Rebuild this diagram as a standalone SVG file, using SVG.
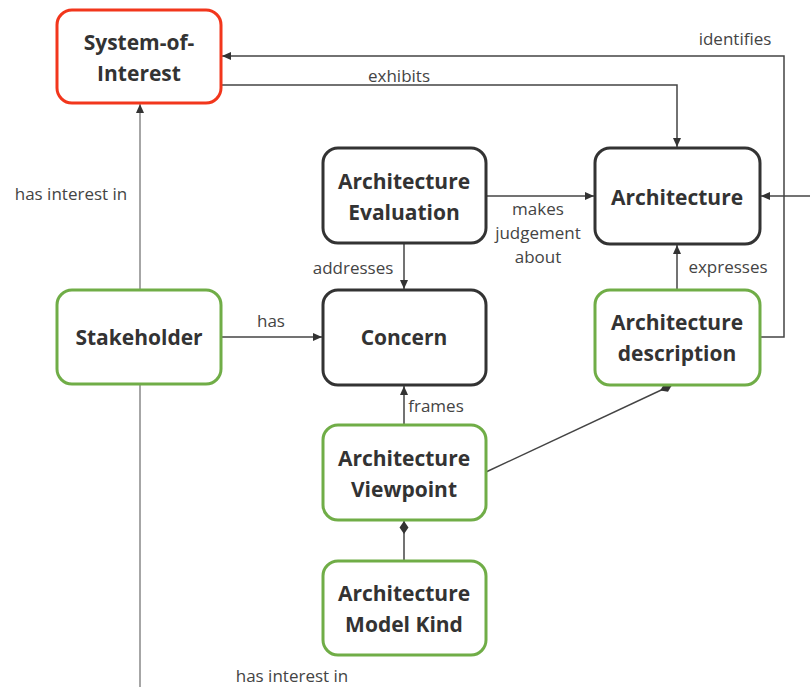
<svg xmlns="http://www.w3.org/2000/svg" width="810" height="687" viewBox="0 0 810 687">
<defs>
<style>
.node rect{fill:#fff;stroke-width:3}
.dark rect{stroke:#333}
.green rect{stroke:#70ad47}
.red rect{stroke:#f2361c}
.node text{font-family:"Open Sans","Liberation Sans",sans-serif;font-weight:bold;font-size:21px;fill:#333;text-anchor:middle}
.lbl{font-family:"Open Sans","Liberation Sans",sans-serif;font-size:17px;fill:#444;text-anchor:middle}
.c{fill:none;stroke:#444;stroke-width:1.5}
.g{fill:none;stroke:#a6a6a6;stroke-width:2}
</style>
<marker id="arr" markerWidth="10" markerHeight="10" refX="9" refY="5" orient="auto" markerUnits="userSpaceOnUse">
<path d="M0,1 L9,5 L0,9 Z" fill="#333"/>
</marker>
<marker id="dia" markerWidth="16" markerHeight="12" refX="14" refY="6" orient="auto" markerUnits="userSpaceOnUse">
<path d="M1,6 L7.5,1.5 L14,6 L7.5,10.5 Z" fill="#333"/>
</marker>
</defs>
<g id="connectors">
<path class="g" d="M140,290 V104" marker-end="url(#arr)"/>
<path class="g" d="M140,385 V687"/>
<path class="c" d="M221,337 H322" marker-end="url(#arr)"/>
<path class="c" d="M404,243 V289" marker-end="url(#arr)"/>
<path class="c" d="M486,196 H594" marker-end="url(#arr)"/>
<path class="c" d="M221,85 H677 V147" marker-end="url(#arr)"/>
<path class="c" d="M760,337 H784 V56 H222" marker-end="url(#arr)"/>
<path class="c" d="M810,196 H761" marker-end="url(#arr)"/>
<path class="c" d="M677,290 V245" marker-end="url(#arr)"/>
<path class="c" d="M404,425 V386" marker-end="url(#arr)"/>
<path class="c" d="M404,561 V521" marker-end="url(#dia)"/>
<path class="c" d="M486,472 L672,385" marker-end="url(#dia)"/>
<text class="lbl" x="735" y="45">identifies</text>
<text class="lbl" x="399" y="82">exhibits</text>
<text class="lbl" x="71" y="200">has interest in</text>
<text class="lbl" x="271" y="327">has</text>
<text class="lbl" x="353" y="274">addresses</text>
<text class="lbl" x="538" y="215">makes</text>
<text class="lbl" x="538" y="239">judgement</text>
<text class="lbl" x="538" y="263">about</text>
<text class="lbl" x="728" y="273">expresses</text>
<text class="lbl" x="436" y="412">frames</text>
<text class="lbl" x="292" y="682">has interest in</text>
</g>
<g id="soi" class="node red">
<rect x="57" y="10" width="164" height="93" rx="15"/>
<text x="139" y="50">System-of-</text>
<text x="139" y="81">Interest</text>
</g>
<g id="stakeholder" class="node green">
<rect x="57" y="290" width="164" height="94" rx="15"/>
<text x="139" y="345">Stakeholder</text>
</g>
<g id="evaluation" class="node dark">
<rect x="323" y="148" width="163" height="95" rx="15"/>
<text x="404" y="189">Architecture</text>
<text x="404" y="220">Evaluation</text>
</g>
<g id="concern" class="node dark">
<rect x="323" y="290" width="163" height="95" rx="15"/>
<text x="404" y="345">Concern</text>
</g>
<g id="architecture" class="node dark">
<rect x="595" y="148" width="165" height="96" rx="15"/>
<text x="677" y="205">Architecture</text>
</g>
<g id="description" class="node green">
<rect x="595" y="290" width="165" height="95" rx="15"/>
<text x="677" y="330">Architecture</text>
<text x="677" y="361">description</text>
</g>
<g id="viewpoint" class="node green">
<rect x="323" y="425" width="163" height="95" rx="15"/>
<text x="404" y="466">Architecture</text>
<text x="404" y="497">Viewpoint</text>
</g>
<g id="modelkind" class="node green">
<rect x="323" y="561" width="163" height="94" rx="15"/>
<text x="404" y="601">Architecture</text>
<text x="404" y="632">Model Kind</text>
</g>
</svg>
